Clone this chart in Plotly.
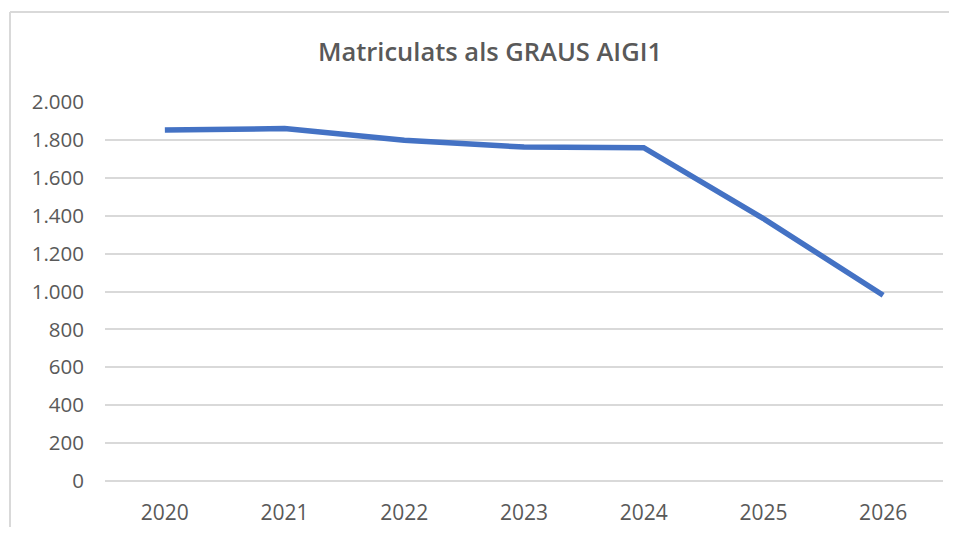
import plotly.graph_objects as go

years = ["2020", "2021", "2022", "2023", "2024", "2025", "2026"]
matriculats = [1852, 1860, 1798, 1762, 1759, 1385, 980]
y_ticks = [0, 200, 400, 600, 800, 1000, 1200, 1400, 1600, 1800, 2000]

# page has an 8px body margin on every side; keep the figure inside the window
OFF = 8
W, H = 957 - 2 * OFF, 535 - 2 * OFF
# target plot area in page pixels: x 105..943, y 102..481
ML = 105 - OFF
MT = 102 - OFF
MR = (OFF + W) - 943
MB = (OFF + H) - 481
pw = W - ML - MR
ph = H - MT - MB

fig = go.Figure()
fig.add_trace(go.Scatter(
    x=years, y=matriculats, mode="lines",
    line=dict(color="#4472C4", width=5.5),
    hoverinfo="x+y", showlegend=False,
))

font_family = "Open Sans, Liberation Sans, sans-serif"

bx = (10 - OFF - ML) / pw
by = (MT + ph - (12 - OFF)) / ph
bx_right = (W - ML) / pw
by_bottom = (MT + ph - H) / ph

fig.update_layout(
    width=W, height=H,
    margin=dict(l=ML, r=MR, t=MT, b=MB, pad=0, autoexpand=False),
    paper_bgcolor="white", plot_bgcolor="white",
    separators=",.",
    title=dict(
        text="Matriculats als GRAUS AIGI1",
        x=(490 - OFF) / W, xref="container", xanchor="center",
        y=1 - (52 - OFF) / H, yref="container", yanchor="middle",
        font=dict(family=font_family, size=25.5, color="#595959", weight=600),
    ),
    xaxis=dict(
        type="category", range=[-0.5, 6.5], automargin=False,
        showgrid=False, showline=False, zeroline=False,
        ticks="", ticklabelstandoff=17,
        tickfont=dict(family=font_family, size=21, color="#595959"),
        fixedrange=True,
    ),
    yaxis=dict(
        range=[0, 2000], tickvals=y_ticks, tickformat=",d", automargin=False,
        showgrid=True, gridcolor="#D9D9D9", gridwidth=1.5,
        zeroline=True, zerolinecolor="#D9D9D9", zerolinewidth=1.5,
        showline=False, ticks="", ticklabelstandoff=20,
        tickfont=dict(family=font_family, size=20.5, color="#595959"),
        fixedrange=True,
    ),
    shapes=[
        dict(type="line", xref="paper", yref="paper",
             x0=bx, x1=bx_right, y0=by, y1=by,
             line=dict(color="#D9D9D9", width=2), layer="below"),
        dict(type="line", xref="paper", yref="paper",
             x0=bx, x1=bx, y0=by, y1=by_bottom,
             line=dict(color="#D9D9D9", width=2), layer="below"),
    ],
)

fig.write_html("out.html")
